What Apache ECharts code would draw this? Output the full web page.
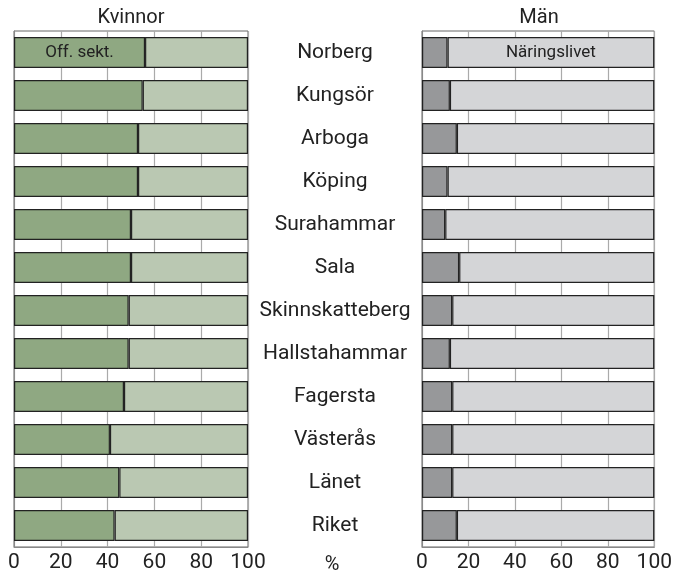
<!DOCTYPE html>
<html>
<head>
<meta charset="utf-8">
<script src="https://cdn.jsdelivr.net/npm/echarts@6/dist/echarts.min.js"></script>
<style>html,body{margin:0;padding:0;background:#fff}#c{width:675px;height:573px}</style>
</head>
<body>
<div id="c"></div>
<script>
const categories = ["Norberg","Kungsör","Arboga","Köping","Surahammar","Sala","Skinnskatteberg","Hallstahammar","Fagersta","Västerås","Länet","Riket"];
const kvinnorOff = [56,55,53,53,50,50,49,49,47,41,45,43];
const kvinnorNar = [44,45,47,47,50,50,51,51,53,59,55,57];
const manOff = [11,12,15,11,10,16,13,12,13,13,13,15];
const manNar = [89,88,85,89,90,84,87,88,87,87,87,85];
const xTicks = [0,20,40,60,80,100];

const FONT = 'Roboto';
const chart = echarts.init(document.getElementById('c'), null, {renderer:'canvas'});
const bw = {borderColor:'#222', borderWidth:1.2};
function xAxis(gi){
  return {gridIndex:gi, type:'value', min:xTicks[0], max:xTicks[xTicks.length-1], interval:xTicks[1]-xTicks[0],
    axisLine:{show:true, lineStyle:{color:'#888'}}, axisTick:{show:false},
    axisLabel:{color:'#222', fontSize:21, fontFamily:FONT, margin:5},
    splitLine:{show:true, lineStyle:{color:'#aaa', width:1.2}}};
}
function txt(t, x, y, fs){
  return {type:'text', style:{text:t, fontSize:fs, fontFamily:FONT, fill:'#222', align:'center', verticalAlign:'middle', x:x, y:y}};
}
chart.setOption({
  animation:false,
  textStyle:{fontFamily:FONT},
  grid:[
    {left:14, width:234, top:31, height:518, show:true, borderColor:'#666', borderWidth:1},
    {left:422, width:234, top:31, height:518, show:true, borderColor:'#666', borderWidth:1}
  ],
  xAxis:[xAxis(0), xAxis(1)],
  yAxis:[
    {gridIndex:0, type:'category', data:categories, inverse:true, axisLabel:{show:false}, axisTick:{show:false}, axisLine:{show:true, lineStyle:{color:'#888'}}},
    {gridIndex:1, type:'category', data:categories, inverse:true, axisTick:{show:false}, axisLine:{show:true, lineStyle:{color:'#888'}},
      axisLabel:{align:'center', margin:87, color:'#222', fontSize:21, fontFamily:FONT}}
  ],
  series:[
    {type:'bar', stack:'k', xAxisIndex:0, yAxisIndex:0, barCategoryGap:'28%',
      itemStyle:Object.assign({color:'#8fa882'}, bw),
      data:kvinnorOff.map((v,i)=> i===0 ? {value:v, label:{show:true, position:'inside', formatter:'Off. sekt.', color:'#222', fontSize:17, fontFamily:FONT}} : v)},
    {type:'bar', stack:'k', xAxisIndex:0, yAxisIndex:0, barCategoryGap:'28%',
      itemStyle:Object.assign({color:'#bac8b2'}, bw), data:kvinnorNar},
    {type:'bar', stack:'m', xAxisIndex:1, yAxisIndex:1, barCategoryGap:'28%',
      itemStyle:Object.assign({color:'#97989a'}, bw), data:manOff},
    {type:'bar', stack:'m', xAxisIndex:1, yAxisIndex:1, barCategoryGap:'28%',
      itemStyle:Object.assign({color:'#d4d5d7'}, bw),
      data:manNar.map((v,i)=> i===0 ? {value:v, label:{show:true, position:'inside', formatter:'Näringslivet', color:'#222', fontSize:17, fontFamily:FONT}} : v)}
  ],
  graphic:[
    txt('Kvinnor', 131, 18, 20),
    txt('Män', 539, 18, 20),
    txt('%', 332, 565, 20)
  ]
});
</script>
</body>
</html>
